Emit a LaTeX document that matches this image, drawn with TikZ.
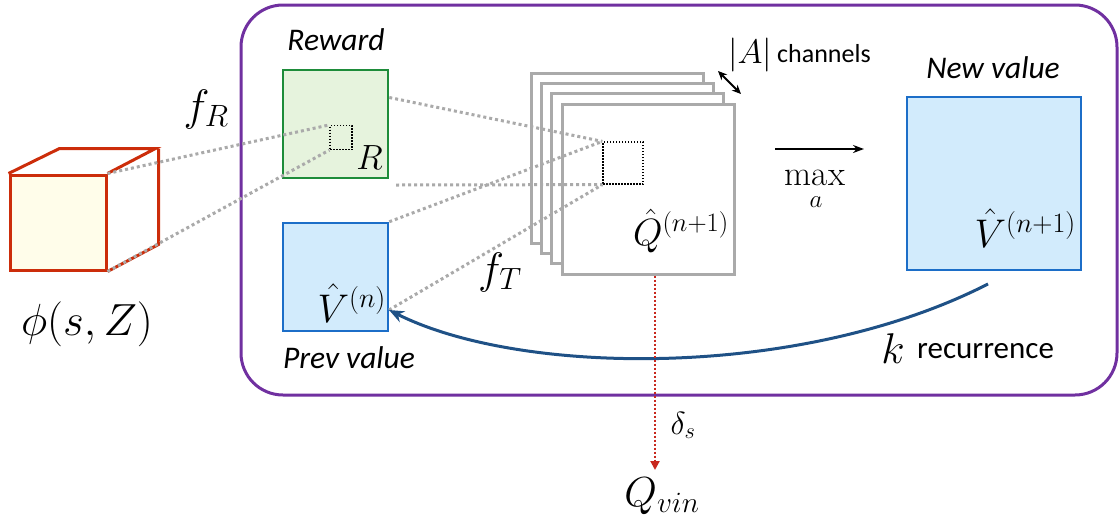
\RequirePackage{fix-cm}
\documentclass[tikz,border=0pt]{standalone}
\usepackage{fontspec}
\setsansfont{Carlito}
\usetikzlibrary{arrows.meta,calc}
\definecolor{frame}{RGB}{112,48,160}
\definecolor{cubered}{RGB}{204,45,10}
\definecolor{cubefill}{RGB}{255,253,234}
\definecolor{grnb}{RGB}{30,140,58}
\definecolor{grnf}{RGB}{230,243,221}
\definecolor{blub}{RGB}{28,110,200}
\definecolor{bluf}{RGB}{210,235,252}
\definecolor{stackgray}{RGB}{170,170,170}
\definecolor{curveblue}{RGB}{31,81,134}
\definecolor{dotred}{RGB}{200,40,30}
\begin{document}
\begin{tikzpicture}[x=1pt,y=-1pt,
  sanslbl/.style={font=\fontsize{31.5}{36}\selectfont\sffamily\itshape, inner sep=0pt, anchor=base},
  mlbl/.style={font=\fontsize{#1}{#1}\selectfont, inner sep=0pt},
  plane/.style={draw, line width=2.5pt, minimum width=105pt, minimum height=108pt, inner sep=0pt},
  qplane/.style={draw=stackgray, fill=white, line width=3pt, minimum width=172pt, minimum height=170pt, inner sep=0pt},
  gdot/.style={draw=stackgray, line width=3pt, dash pattern=on 3pt off 3pt},
  smallbox/.style={draw=black, line width=1.2pt, dash pattern=on 1.5pt off 1.5pt, inner sep=0pt}
]
\useasboundingbox (0,0) rectangle (1120,523);

% frame
\node[draw=frame, line width=3pt, rounded corners=42pt, minimum width=876pt, minimum height=390pt, inner sep=0pt] (frame) at (679,200) {};

% cube
\node[draw=cubered, fill=cubefill, line width=3pt, minimum width=96pt, minimum height=95pt, inner sep=0pt] (cubef) at (58,222.5) {};
\draw[cubered, line width=3pt, line join=miter] (cubef.north west) -- ++(51,-25) -- ++(96,0) -- (cubef.north east);
\draw[cubered, line width=3pt, line join=miter] ($(cubef.north east)+(51,-25)$) -- ++(0,96) -- (cubef.south east);
\node[mlbl=45, anchor=base] (phi) at (87,335) {$\phi(s,Z)$};

% reward plane
\node[plane, draw=grnb, fill=grnf] (rew) at (335.5,124) {};
\node[smallbox, minimum width=22pt, minimum height=24pt] (rs) at (341,137.5) {};
\node[mlbl=35, anchor=base east] (rlab) at (383,169) {$R$};
\node[sanslbl] (rewlab) at (336,50) {Reward};
\node[mlbl=44, anchor=base] (fr) at (206,120) {$f_R$};

% prev value plane
\node[plane, draw=blub, fill=bluf] (prev) at (335.5,277) {};
\node[mlbl=40, anchor=base east] (vn) at (386,322) {$\hat V^{(n)}$};
\coordinate (vnpt) at (389,310);
\node[sanslbl] (prevlab) at (349,368) {Prev value};

% Q stack
\node[qplane] (q1) at (617.5,158) {};
\node[qplane] (q2) at (627.5,168) {};
\node[qplane] (q3) at (637.5,178) {};
\node[qplane] (q4) at (648,189) {};
\node[smallbox, minimum width=40pt, minimum height=42pt] (qs) at (623,163) {};
\node[mlbl=38, anchor=base east] (qlab) at (729,245) {$\hat Q^{(n+1)}$};
\node[mlbl=44, anchor=base] (ft) at (500,283) {$f_T$};

% channels
\coordinate (ca) at (718,71);
\coordinate (cb) at (741,94);
\draw[line width=2pt, {Stealth[length=9pt,width=8pt]}-{Stealth[length=9pt,width=8pt]}] (ca) -- (cb);
\node[mlbl=34, anchor=base] (abs) at (750,63) {$|A|$};
\node[font=\fontsize{26}{30}\selectfont\sffamily, inner sep=0pt, anchor=base west] (chan) at (777,62) {channels};

% max arrow
\coordinate (ma) at (775,149);
\coordinate (mb) at (864,149);
\draw[line width=2pt, -{Stealth[length=11pt,width=8pt]}] (ma) -- (mb);
\node[mlbl=35, anchor=base] (maxlab) at (815,185) {$\mathrm{max}$};
\node[mlbl=25, anchor=base] (maxsub) at (816,207) {$a$};

% new value plane
\node[plane, draw=blub, fill=bluf, minimum width=174pt, minimum height=173pt] (newv) at (994,183.5) {};
\node[sanslbl] (newlab) at (993,78) {New value};
\node[mlbl=40, anchor=base east] (vn1) at (1076,247) {$\hat V^{(n+1)}$};

% dotted projection lines
\coordinate (hstart) at (396,185);
\draw[gdot] (cubef.north east) -- (rs.north west);
\draw[gdot] (cubef.south east) -- (rs.south west);
\draw[gdot] ($(rew.north east)!0.26!(rew.south east)$) -- (qs.north west);
\draw[gdot] (hstart) -- (qs.south west);
\draw[gdot] (prev.north east) -- (qs.north west);
\draw[gdot] (vnpt) -- (qs.south west);

% recurrence curve
\coordinate (cs) at (988,284);
\draw[curveblue, line width=3pt, -{Stealth[length=15pt,width=12pt]}] (cs) .. controls (800,380) and (520,376) .. (vnpt);
\node[mlbl=43, anchor=base] (k) at (893,363) {$k$};
\node[font=\fontsize{31}{36}\selectfont\sffamily, inner sep=0pt, anchor=base west] (rec) at (917,358) {recurrence};

% output
\coordinate (qtop) at ($(q4.south)+(7,0)$);
\coordinate (qend) at (655,470);
\draw[dotred, line width=2pt, dash pattern=on 2pt off 2pt, -{Triangle[length=9pt,width=9pt]}] (qtop) -- (qend);
\node[mlbl=32, anchor=base] (ds) at (683,434) {$\delta_s$};
\node[mlbl=42, anchor=base] (qvin) at (662,506) {$Q_{vin}$};
\end{tikzpicture}
\end{document}
